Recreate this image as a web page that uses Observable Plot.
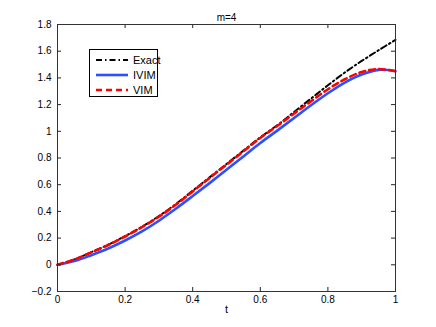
<!DOCTYPE html>
<html><head><meta charset="utf-8">
<script src="https://cdn.jsdelivr.net/npm/d3@7"></script>
<script src="https://cdn.jsdelivr.net/npm/@observablehq/plot@0.6"></script>
<style>
body{margin:0;background:#fff;}
#wrap{position:relative;width:436px;height:327px;font-family:"Liberation Sans",Arial,sans-serif;}
#legend{position:absolute;left:89px;top:49px;width:69px;height:48px;border:1px solid #000;background:#fff;font-size:11px;box-sizing:border-box;}
#legend .row{position:absolute;left:0;height:14px;display:flex;align-items:center;}
#legend svg{display:block;margin-left:6px;}
#legend span{margin-left:5px;line-height:14px;}
</style></head><body><div id="wrap"><div id="legend"></div></div>
<script>
const title = "m=4";
const xLabel = "t";
const xTicks = [0, 0.2, 0.4, 0.6, 0.8, 1];
const yTicks = [-0.2, 0, 0.2, 0.4, 0.6, 0.8, 1, 1.2, 1.4, 1.6, 1.8];
const seriesNames = ["Exact", "IVIM", "VIM"];
const t =     [0, 0.05, 0.1, 0.15, 0.2, 0.25, 0.3, 0.35, 0.4, 0.45, 0.5, 0.55, 0.6, 0.65, 0.7, 0.75, 0.8, 0.85, 0.9, 0.95, 1];
const exact = [0, 0.04, 0.095, 0.15, 0.215, 0.285, 0.365, 0.455, 0.555, 0.655, 0.755, 0.855, 0.955, 1.045, 1.145, 1.245, 1.345, 1.44, 1.527, 1.607, 1.685];
const ivim =  [0, 0.028, 0.072, 0.122, 0.182, 0.25, 0.33, 0.42, 0.515, 0.612, 0.712, 0.812, 0.912, 1.005, 1.1, 1.195, 1.285, 1.365, 1.425, 1.46, 1.45];
const vim =   [0, 0.04, 0.093, 0.148, 0.212, 0.282, 0.36, 0.45, 0.55, 0.65, 0.75, 0.85, 0.95, 1.04, 1.133, 1.225, 1.315, 1.39, 1.444, 1.467, 1.45];

const styles = {
  Exact: {stroke: "#000", strokeWidth: 2, dash: "6,3,1.5,3"},
  IVIM: {stroke: "#2a50ff", strokeWidth: 2.6, dash: null},
  VIM: {stroke: "#ff0000", strokeWidth: 2.6, dash: "6,4"}
};
const values = {Exact: exact, IVIM: ivim, VIM: vim};
const rows = name => t.map((x, i) => ({t: x, v: values[name][i]}));

const lineMark = name => Plot.line(rows(name), {
  x: "t", y: "v", curve: "catmull-rom",
  stroke: styles[name].stroke, strokeWidth: styles[name].strokeWidth,
  strokeDasharray: styles[name].dash
});

const W = 436, H = 327, mL = 57, mR = 41, mT = 24, mB = 36;
const frameW = W - mL - mR, frameH = H - mT - mB, tk = 4;
const tickColor = "#222";

const chart = Plot.plot({
  width: W, height: H,
  marginLeft: mL, marginRight: mR, marginTop: mT, marginBottom: mB,
  style: {fontFamily: "'Liberation Sans', Arial, sans-serif", fontSize: "10px", color: "#000", background: "#fff", overflow: "visible"},
  x: {domain: [0, 1]},
  y: {domain: [-0.2, 1.8]},
  marks: [
    lineMark("Exact"),
    lineMark("IVIM"),
    lineMark("VIM"),
    Plot.ruleX(xTicks, {x: d => d, insetTop: frameH - tk, stroke: tickColor}),
    Plot.ruleX(xTicks, {x: d => d, insetBottom: frameH - tk, stroke: tickColor}),
    Plot.ruleY(yTicks, {y: d => d, insetRight: frameW - tk, stroke: tickColor}),
    Plot.ruleY(yTicks, {y: d => d, insetLeft: frameW - tk, stroke: tickColor}),
    Plot.frame({stroke: "#333"}),
    Plot.axisX(xTicks, {anchor: "bottom", tickSize: 0, tickPadding: 4, label: null, tickFormat: d => String(d)}),
    Plot.axisY(yTicks, {anchor: "left", tickSize: 0, tickPadding: 6, label: null, tickFormat: d => (d < 0 ? "\u2212" + String(-d) : String(d))}),
    Plot.text([title], {frameAnchor: "top", dy: -11, fontSize: 10}),
    Plot.text([xLabel], {frameAnchor: "bottom", dy: 21, fontSize: 11})
  ]
});
document.getElementById("wrap").prepend(chart);

const legend = document.getElementById("legend");
seriesNames.forEach((name, i) => {
  const row = document.createElement("div");
  row.className = "row";
  row.style.top = (2.5 + i * 15) + "px";
  const s = styles[name];
  row.innerHTML = `<svg width="32" height="14"><line x1="0" x2="32" y1="7" y2="7" stroke="${s.stroke}" stroke-width="${s.strokeWidth}" ${s.dash ? `stroke-dasharray="${s.dash}"` : ""}/></svg><span>${name}</span>`;
  legend.appendChild(row);
});
</script>
</body></html>
